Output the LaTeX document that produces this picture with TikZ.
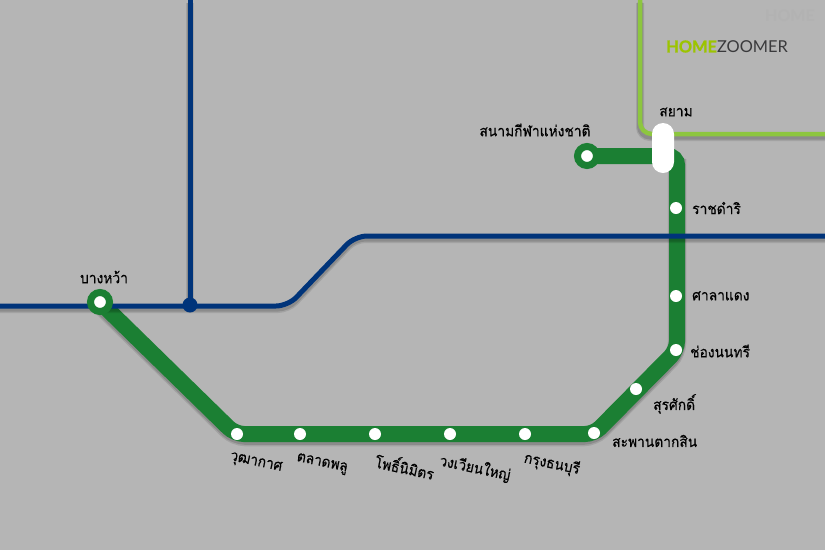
\documentclass[tikz,border=0pt]{standalone}
\usepackage{fontspec}
\newfontfamily\thaifont[Script=Thai,FakeStretch=0.92,FakeBold=0.4]{Loma}
\newfontfamily\logofont{Lato}
\newfontfamily\logoheavy[FakeBold=1.2]{Lato}
\usetikzlibrary{calc}
\definecolor{bg}{HTML}{B5B5B5}
\definecolor{gline}{HTML}{1B7F33}
\definecolor{navy}{HTML}{00347A}
\definecolor{lime}{HTML}{8DC63F}
\definecolor{limetxt}{HTML}{9CC400}
\definecolor{darktxt}{HTML}{3A3A3C}
\tikzset{
  x=1pt,y=-1pt,
  lbl/.style={inner sep=0pt,font=\thaifont\fontsize{15}{15}\selectfont,text=black},
  station/.style={circle,fill=white,draw=none,minimum size=12pt,inner sep=0pt},
  terminal/.style={circle,fill=white,draw=gline,line width=7pt,minimum size=19pt,inner sep=0pt},
  greenline/.style={draw=gline,line width=16pt,rounded corners=9pt,line cap=butt},
  navyline/.style={draw=navy,line width=5pt,rounded corners=12pt},
  limeline/.style={draw=lime,line width=4.5pt,rounded corners=12pt},
  softa/.style={draw=black,opacity=.10,rounded corners=10pt,transform canvas={yshift=-3pt}},
  softb/.style={draw=black,opacity=.14,rounded corners=10pt,transform canvas={yshift=-2.5pt}},
}
\begin{document}
\begin{tikzpicture}
\useasboundingbox (0,0) rectangle (825,550);
\fill[bg] (0,0) rectangle (825,550);
% coordinates
\coordinate (nw) at (0,306);
\coordinate (nj) at (190,305);
\coordinate (nt) at (190,0);
\coordinate (nc1) at (288,306);
\coordinate (nc2) at (355,236);
\coordinate (ne) at (825,236);
\coordinate (lt) at (640,0);
\coordinate (lc) at (640,134);
\coordinate (le) at (825,134);
\coordinate (gc1) at (677,156);
\coordinate (gc2) at (677,350);
\coordinate (gc3) at (594,434);
\coordinate (gc4) at (235,434);
\coordinate (bwc) at (100,302);
\coordinate (nscc) at (587,156);
% lime line
\foreach \w/\s in {8/softa,6/softb}{
  \draw[\s,line width=\w pt] (lt) -- (lc) -- (le);
}
\draw[limeline] (lt) -- (lc) -- (le);
% green line
\foreach \w/\s in {18.5/softa,16.5/softb}{
  \draw[\s,line width=\w pt] (gc1) -- (gc2) -- (gc3) -- (gc4) -- (bwc);
}
\draw[greenline] (nscc) -- (gc1) -- (gc2) -- (gc3) -- (gc4) -- (bwc);
% navy lines
\foreach \w/\s in {8/softa,6/softb}{
  \draw[\s,line width=\w pt] (nj) -- (nt);
  \draw[\s,line width=\w pt] (nw) -- (nc1) -- (nc2) -- (ne);
}
\draw[navyline] (nt) -- (nj);
\draw[navyline] (nw) -- (nc1) -- (nc2) -- (ne);
\node[circle,fill=navy,minimum size=15pt,inner sep=0pt] (dot) at (nj) {};
% stations
\node[terminal] (bw) at (bwc) {};
\node[terminal] (nsc) at (nscc) {};
\node[station] (s1) at (237,434) {};
\node[station] (s2) at (300,434) {};
\node[station] (s3) at (375,434) {};
\node[station] (s4) at (450,434) {};
\node[station] (s5) at (525,434) {};
\node[station] (s6) at (594,433) {};
\node[station] (s7) at (636,389) {};
\node[station] (s8) at (676,350) {};
\node[station] (s9) at (676,296) {};
\node[station] (s10) at (676,208) {};
\node[rounded corners=11pt,fill=white,minimum width=22pt,minimum height=50pt,inner sep=0pt] (siam) at (663,148) {};
% labels
\node[lbl] (l1) at (104,277) {บางหว้า};
\node[lbl] (l2) at (535,130) {สนามกีฬาแห่งชาติ};
\node[lbl] (l3) at (676,112) {สยาม};
\node[lbl,anchor=west] (l4) at (692,208) {ราชดำริ};
\node[lbl,anchor=west] (l5) at (692,296) {ศาลาแดง};
\node[lbl,anchor=west] (l6) at (690,351) {ช่องนนทรี};
\node[lbl,anchor=west] (l7) at (653,404) {สุรศักดิ์};
\node[lbl,anchor=west] (l8) at (612,441) {สะพานตากสิน};
\node[lbl,rotate=-12] (l9) at (256,463) {วุฒากาศ};
\node[lbl,rotate=-12] (l10) at (322,464) {ตลาดพลู};
\node[lbl,rotate=-12] (l11) at (405,466) {โพธิ์นิมิตร};
\node[lbl,rotate=-12] (l12) at (475,468) {วงเวียนใหญ่};
\node[lbl,rotate=-12] (l13) at (552,464) {กรุงธนบุรี};
% logo
\node[inner sep=0pt,anchor=west,font=\fontsize{16.4}{16.4}\selectfont] (logo) at (666,46.5) {\textcolor{limetxt}{\logoheavy\bfseries HOME}\textcolor{darktxt}{\logofont ZOOMER}};
\node[inner sep=0pt,font=\logofont\bfseries\fontsize{16}{16}\selectfont,text=black!30.2] (wm) at (790,16) {HOME};
\end{tikzpicture}
\end{document}
